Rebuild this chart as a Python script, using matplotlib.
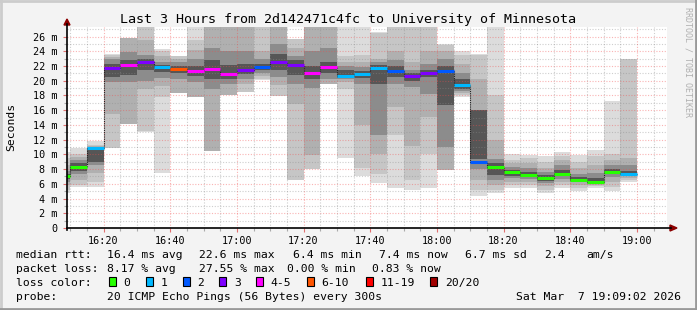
import matplotlib
matplotlib.use("Agg")
import matplotlib.pyplot as plt
from matplotlib.patches import Rectangle, Polygon
from matplotlib.lines import Line2D
import numpy as np

# ---------------- data ----------------
col_end = ["16:10", "16:15", "16:20", "16:25", "16:30", "16:35", "16:40", "16:45",
           "16:50", "16:55", "17:00", "17:05", "17:10", "17:15", "17:20", "17:25",
           "17:30", "17:35", "17:40", "17:45", "17:50", "17:55", "18:00", "18:05",
           "18:10", "18:15", "18:20", "18:25", "18:30", "18:35", "18:40", "18:45",
           "18:50", "18:55", "19:00"]
median = [7.1, 8.3, 10.9, 21.7, 22.2, 22.5, 21.9, 21.6, 21.3, 21.6, 20.9, 21.5,
          21.8, 22.6, 22.1, 21.0, 21.8, 20.7, 20.9, 21.7, 21.3, 20.6, 21.0, 21.3,
          19.4, 9.0, 8.3, 7.6, 7.2, 6.8, 7.4, 6.5, 6.2, 7.6, 7.4]
loss = [0, 0, 1, 3, 4, 3, 1, 6, 4, 5, 4, 3, 2, 3, 3, 4, 5, 1, 1, 1, 2, 3, 3, 2,
        1, 2, 0, 0, 0, 0, 0, 0, 0, 0, 1]
# smoke bands, outermost (1) to innermost (5)
lo1 = [4.7, 5.6, 5.6, 10.8, 14.1, 13.1, 7.5, 18.3, 17.8, 10.5, 18.0, 18.5, 20.1, 17.9,
       6.5, 8.0, 19.5, 9.5, 7.1, 6.1, 5.5, 5.1, 5.5, 7.9, 17.8, 4.4, 4.8, 5.4, 5.4, 4.8,
       5.4, 5.0, 5.4, 5.0, 6.3]
hi1 = [10.3, 10.8, 11.8, 23.7, 25.8, 27.5, 24.3, 23.4, 27.5, 27.5, 27.5, 27.5, 27.5,
       27.5, 25.7, 27.5, 27.5, 27.5, 27.5, 26.6, 27.5, 27.5, 27.5, 25.0, 24.1, 23.7,
       27.5, 10.0, 9.9, 9.8, 10.3, 9.9, 10.6, 17.3, 23.0]
lo2 = [5.2, 5.9, 6.3, 10.8, 14.1, 13.2, 17.8, 18.3, 17.8, 10.5, 18.0, 18.5, 20.3, 17.9,
       6.5, 8.0, 19.5, 18.9, 8.1, 7.4, 12.6, 6.5, 10.1, 7.9, 18.0, 5.2, 5.2, 5.8, 5.8,
       5.2, 5.8, 5.5, 5.7, 5.6, 6.5]
hi2 = [9.5, 10.1, 11.3, 23.5, 25.8, 27.5, 24.0, 23.3, 25.5, 27.5, 27.5, 27.5, 27.5,
       27.5, 25.7, 27.5, 27.5, 23.4, 23.5, 26.5, 27.5, 27.5, 27.5, 24.8, 23.5, 23.5,
       18.0, 9.3, 9.5, 9.0, 9.8, 9.0, 9.8, 10.1, 23.0]
lo3 = [5.8, 6.5, 7.5, 15.5, 14.1, 18.9, 19.3, 18.3, 17.8, 10.5, 18.0, 19.6, 20.6, 19.4,
       16.9, 9.9, 19.5, 19.8, 14.0, 10.1, 16.4, 11.2, 15.1, 7.9, 18.3, 6.5, 5.8, 6.3,
       6.3, 5.7, 6.3, 5.9, 5.9, 6.3, 6.8]
hi3 = [8.5, 9.7, 11.1, 23.2, 25.8, 25.5, 23.3, 23.0, 24.2, 27.5, 27.5, 27.5, 24.0,
       27.5, 24.5, 27.5, 27.5, 22.5, 22.5, 23.0, 24.0, 22.5, 24.0, 24.0, 22.3, 20.3,
       11.9, 8.8, 8.8, 8.2, 9.2, 8.2, 8.5, 9.3, 9.5]
lo4 = [6.3, 7.3, 8.5, 19.8, 19.8, 20.0, 20.4, 20.3, 19.8, 18.9, 19.5, 20.3, 21.0, 20.5,
       19.5, 19.0, 20.3, 20.2, 19.5, 12.6, 19.5, 19.2, 18.2, 11.0, 18.6, 8.0, 6.5, 6.8,
       6.6, 6.1, 6.7, 6.2, 6.0, 6.9, 7.0]
hi4 = [7.8, 9.2, 10.9, 22.9, 23.9, 23.5, 22.6, 22.5, 23.0, 24.5, 24.0, 24.0, 23.0,
       25.0, 23.3, 24.0, 24.5, 22.0, 21.8, 22.5, 22.8, 21.5, 22.3, 23.0, 21.0, 16.0,
       9.4, 8.3, 8.2, 7.6, 8.5, 7.4, 7.5, 8.5, 8.5]
lo5 = [6.7, 7.8, 8.9, 20.5, 20.8, 21.5, 21.2, 21.0, 20.6, 20.3, 20.3, 20.9, 21.4, 21.5,
       20.8, 20.3, 21.0, 20.4, 20.4, 19.5, 20.5, 20.0, 20.5, 16.7, 18.9, 9.4, 7.2, 7.1,
       6.9, 6.4, 7.0, 6.4, 6.1, 7.3, 7.2]
hi5 = [7.4, 8.8, 10.8, 22.3, 22.8, 23.0, 22.2, 22.0, 22.0, 22.8, 22.2, 22.3, 22.3,
       23.6, 22.8, 22.0, 22.6, 21.5, 21.3, 22.2, 22.0, 21.1, 21.5, 22.0, 20.3, 16.0,
       8.8, 7.9, 7.6, 7.2, 7.9, 6.9, 6.8, 8.0, 7.8]

y_ticks = [0, 2, 4, 6, 8, 10, 12, 14, 16, 18, 20, 22, 24, 26]
x_tick_labels = ["16:20", "16:40", "17:00", "17:20", "17:40", "18:00", "18:20", "18:40", "19:00"]

loss_legend = ["0", "1", "2", "3", "4-5", "6-10", "11-19", "20/20"]
loss_colors = ["#26ff00", "#00b8ff", "#0059ff", "#7e00ff", "#ff00ff", "#ff5500", "#ff0000", "#a10000"]

# ---------------- helpers ----------------
W, H = 697, 310
def to_min(s):
    h, m = s.split(":")
    return (int(h) - 16) * 60 + int(m)

def lcolor(n):
    if n == 0: return loss_colors[0]
    if n == 1: return loss_colors[1]
    if n == 2: return loss_colors[2]
    if n == 3: return loss_colors[3]
    if n <= 5: return loss_colors[4]
    if n <= 10: return loss_colors[5]
    if n <= 19: return loss_colors[6]
    return loss_colors[7]

def fx(x): return x / W
def fy(y): return 1 - y / H

ends = np.array([to_min(s) for s in col_end], dtype=float)
starts = ends - 5

BG = "#f3f3f3"
MONO = "DejaVu Sans Mono"
fig = plt.figure(figsize=(W / 100, H / 100), dpi=100, facecolor=BG)

ax_l, ax_r, ax_t, ax_b = 67, 667, 27, 228
ax = fig.add_axes([fx(ax_l), fy(ax_b), (ax_r - ax_l) / W, (ax_b - ax_t) / H])
ax.set_facecolor("white")
x0 = 9 + 2 / 60
ax.set_xlim(x0, x0 + 180)
ax.set_ylim(0, 27.3)

# smoke
grays = ["#dcdcdc", "#c6c6c6", "#b0b0b0", "#8c8c8c", "#565656"]
for lo, hi, g in zip([lo1, lo2, lo3, lo4, lo5], [hi1, hi2, hi3, hi4, hi5], grays):
    lo = np.array(lo); hi = np.array(hi)
    ax.bar(starts, hi - lo, bottom=lo, width=5, align="edge", color=g,
           linewidth=0, zorder=2)

# grid
red_g = (0.95, 0.3, 0.3, 0.42)
gray_g = (0.55, 0.55, 0.55, 0.42)
for v in np.arange(1, 28, 1):
    ax.axhline(v, color=red_g if v % 2 == 0 else gray_g, lw=0.8, ls=(0, (1, 1.5)), zorder=3)
for m in np.arange(10, 190, 5):
    ax.axvline(m, color=red_g if m % 20 == 0 else gray_g, lw=0.8, ls=(0, (1, 1.5)), zorder=3)

# median: dark step connector then coloured segments
ax.step(np.append(starts, ends[-1]), np.append(median, median[-1]), where="post",
        color="#222222", lw=0.8, ls=(0, (1, 1)), zorder=4)
ax.hlines(median, starts, ends, colors=[lcolor(n) for n in loss], lw=2.2, zorder=5)

# axes styling
for s in ["top", "right", "left", "bottom"]:
    ax.spines[s].set_visible(False)
ax.set_yticks(y_ticks)
ax.set_yticklabels(["0" if v == 0 else f"{v} m" for v in y_ticks], fontfamily=MONO, fontsize=7.3)
ax.set_yticks(np.arange(1, 27, 2), minor=True)
ax.set_xticks([to_min(s) for s in x_tick_labels])
ax.set_xticklabels(x_tick_labels, fontfamily=MONO, fontsize=7.3)
ax.set_xticks(np.arange(10, 190, 5), minor=True)
ax.tick_params(axis="both", which="major", length=3, width=0.8, color="#e07070", pad=2)
ax.tick_params(axis="both", which="minor", length=2, width=0.8, color="#aaaaaa")
ax.tick_params(axis="y", pad=4)
ax.tick_params(axis="x", pad=3)

# axis lines and arrows
fig.add_artist(Line2D([fx(ax_l), fx(671)], [fy(ax_b), fy(ax_b)], color="black", lw=1.2))
fig.add_artist(Line2D([fx(ax_l), fx(ax_l)], [fy(ax_b + 2), fy(24)], color="black", lw=1.2))
fig.add_artist(Polygon([[fx(670), fy(225)], [fx(677), fy(228)], [fx(670), fy(231)]],
                       closed=True, color="#8b0000", transform=fig.transFigure))
fig.add_artist(Polygon([[fx(64), fy(25)], [fx(67), fy(19)], [fx(70), fy(25)]],
                       closed=True, color="#8b0000", transform=fig.transFigure))

# title, y label, watermark
fig.text(fx(348), fy(23.5), "Last 3 Hours from 2d142471c4fc to University of Minnesota",
         ha="center", va="baseline", fontfamily=MONO, fontsize=9.6)
fig.text(fx(11), fy(127), "Seconds", rotation=90, ha="center", va="center",
         fontfamily=MONO, fontsize=8.2)
fig.text(fx(688), fy(62), "RRDTOOL / TOBI OETIKER", rotation=-90, ha="center", va="center",
         fontfamily=MONO, fontsize=6, color="#b0b0b0")

# legend text
fs = 8.2
def t(x, y, s, ha="left"):
    fig.text(fx(x), fy(y + 4), s, ha=ha, va="baseline", fontfamily=MONO, fontsize=fs)

r1, r2, r3, r4 = 254.3, 268.3, 281.8, 296.3
t(16, r1, "median rtt:")
t(107.3, r1, "16.4 ms avg")
t(199, r1, "22.6 ms max")
t(293.3, r1, "6.4 ms min")
t(378.7, r1, "7.4 ms now")
t(465.3, r1, "6.7 ms sd")
t(544.3, r1, "2.4")
t(586.3, r1, "am/s")
t(16, r2, "packet loss:")
t(107.3, r2, "8.17 % avg")
t(199, r2, "27.55 % max")
t(286.7, r2, "0.00 % min")
t(372, r2, "0.83 % now")
t(16, r3, "loss color:")
box_x = [108.7, 146, 182.7, 219.3, 256, 306.7, 366, 430.3]
for bx, lab, c in zip(box_x, loss_legend, loss_colors):
    fig.add_artist(Rectangle((fx(bx), fy(r3 + 4.5)), 7 / W, 9 / H, transform=fig.transFigure,
                             facecolor=c, edgecolor="black", lw=0.8))
    t(bx + 14.7, r3, lab)
t(16, r4, "probe:")
t(107.3, r4, "20 ICMP Echo Pings (56 Bytes) every 300s")
t(680.5, r4, "Sat Mar  7 19:09:02 2026", ha="right")

# frame
fig.add_artist(Line2D([0, 1], [1 - 1 / H, 1 - 1 / H], color="#cccccc", lw=2))
fig.add_artist(Line2D([1 / W, 1 / W], [0, 1], color="#cccccc", lw=2))
fig.add_artist(Line2D([0, 1], [1 / H, 1 / H], color="#999999", lw=2))
fig.add_artist(Line2D([1 - 1 / W, 1 - 1 / W], [0, 1], color="#999999", lw=2))

fig.savefig("out.png", dpi=100, facecolor=BG)
